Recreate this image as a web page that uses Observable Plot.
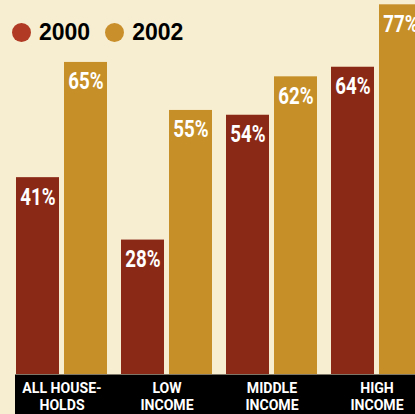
<!DOCTYPE html>
<html>
<head>
<meta charset="utf-8">
<script src="https://cdn.jsdelivr.net/npm/d3@7"></script>
<script src="https://cdn.jsdelivr.net/npm/@observablehq/plot@0.6"></script>
<style>
  html, body { margin: 0; padding: 0; background: #F7EDD1; overflow: hidden; width: 415px; height: 414px; }
  #wrap { position: relative; width: 415px; height: 414px; overflow: hidden; }
  #legend { position: absolute; top: 19px; left: 12px; display: flex; align-items: center;
    font-family: "Liberation Sans", Arial, sans-serif; font-weight: bold; font-size: 23px; color: #000; }
  #legend .sw { width: 19px; height: 19px; border-radius: 50%; display: inline-block; margin-right: 8px; }
  #legend .item { display: flex; align-items: center; margin-right: 15px; }
  #wrap svg { display: block; max-width: none !important; width: 422px !important; height: 414px !important; }
</style>
</head>
<body>
<div id="wrap"><div id="legend"></div></div>
<script>
const categories = ["All households", "Low income", "Middle income", "High income"];
const tickLabels = ["ALL HOUSE-\nHOLDS", "LOW\nINCOME", "MIDDLE\nINCOME", "HIGH\nINCOME"];
const years = ["2000", "2002"];
const values2000 = [41, 28, 54, 64];
const values2002 = [65, 55, 62, 77];
const barColors = ["#8B2917", "#C68F27"];
const legendColors = ["#B03A23", "#C98F2A"];

const rows2000 = categories.map((c, i) => ({cat: c, value: values2000[i], year: years[0]}));
const rows2002 = categories.map((c, i) => ({cat: c, value: values2002[i], year: years[1]}));
const ticks = categories.map((c, i) => ({cat: c, label: tickLabels[i]}));

const font = "Roboto, 'Liberation Sans', sans-serif";

const chart = Plot.plot({
  width: 422,
  height: 414,
  marginLeft: 15,
  marginRight: 0,
  marginTop: 0,
  marginBottom: 40,
  style: {background: "transparent"},
  x: {domain: categories, paddingInner: 0.136, paddingOuter: 0, axis: null},
  y: {domain: [0, 77.9], axis: null},
  marks: [
    Plot.barY(rows2000, {x: "cat", y: "value", fill: barColors[0], insetRight: 48}),
    Plot.barY(rows2002, {x: "cat", y: "value", fill: barColors[1], insetLeft: 48}),
    Plot.text(rows2000, {x: "cat", y: "value", text: d => d.value + "%", dx: -24, dy: 10,
      lineAnchor: "top", fill: "white", fontSize: 24, fontWeight: "bold", fontFamily: font,
      className: "vlabel"}),
    Plot.text(rows2002, {x: "cat", y: "value", text: d => d.value + "%", dx: 24, dy: 10,
      lineAnchor: "top", fill: "white", fontSize: 24, fontWeight: "bold", fontFamily: font,
      className: "vlabel"}),
    Plot.ruleY([0], {stroke: "black", strokeWidth: 40, dy: 20}),
    Plot.text(ticks, {x: "cat", text: "label", frameAnchor: "bottom", lineAnchor: "top", dy: 7,
      lineHeight: 1.12, fill: "white", fontSize: 15, fontWeight: "bold", fontFamily: font,
      className: "tlabel"})
  ]
});
document.getElementById("wrap").prepend(chart);

// condense the label glyphs horizontally around their anchor points
function condense(selector, factor) {
  chart.querySelectorAll(selector + " text").forEach(t => {
    const tr = t.getAttribute("transform");
    if (tr) t.setAttribute("transform", tr + ` scale(${factor},1)`);
  });
}
condense(".vlabel", 0.78);
condense(".tlabel", 0.94);

const legend = document.getElementById("legend");
years.forEach((y, i) => {
  const item = document.createElement("span");
  item.className = "item";
  const sw = document.createElement("span");
  sw.className = "sw";
  sw.style.background = legendColors[i];
  item.appendChild(sw);
  item.appendChild(document.createTextNode(y));
  legend.appendChild(item);
});
</script>
</body>
</html>
